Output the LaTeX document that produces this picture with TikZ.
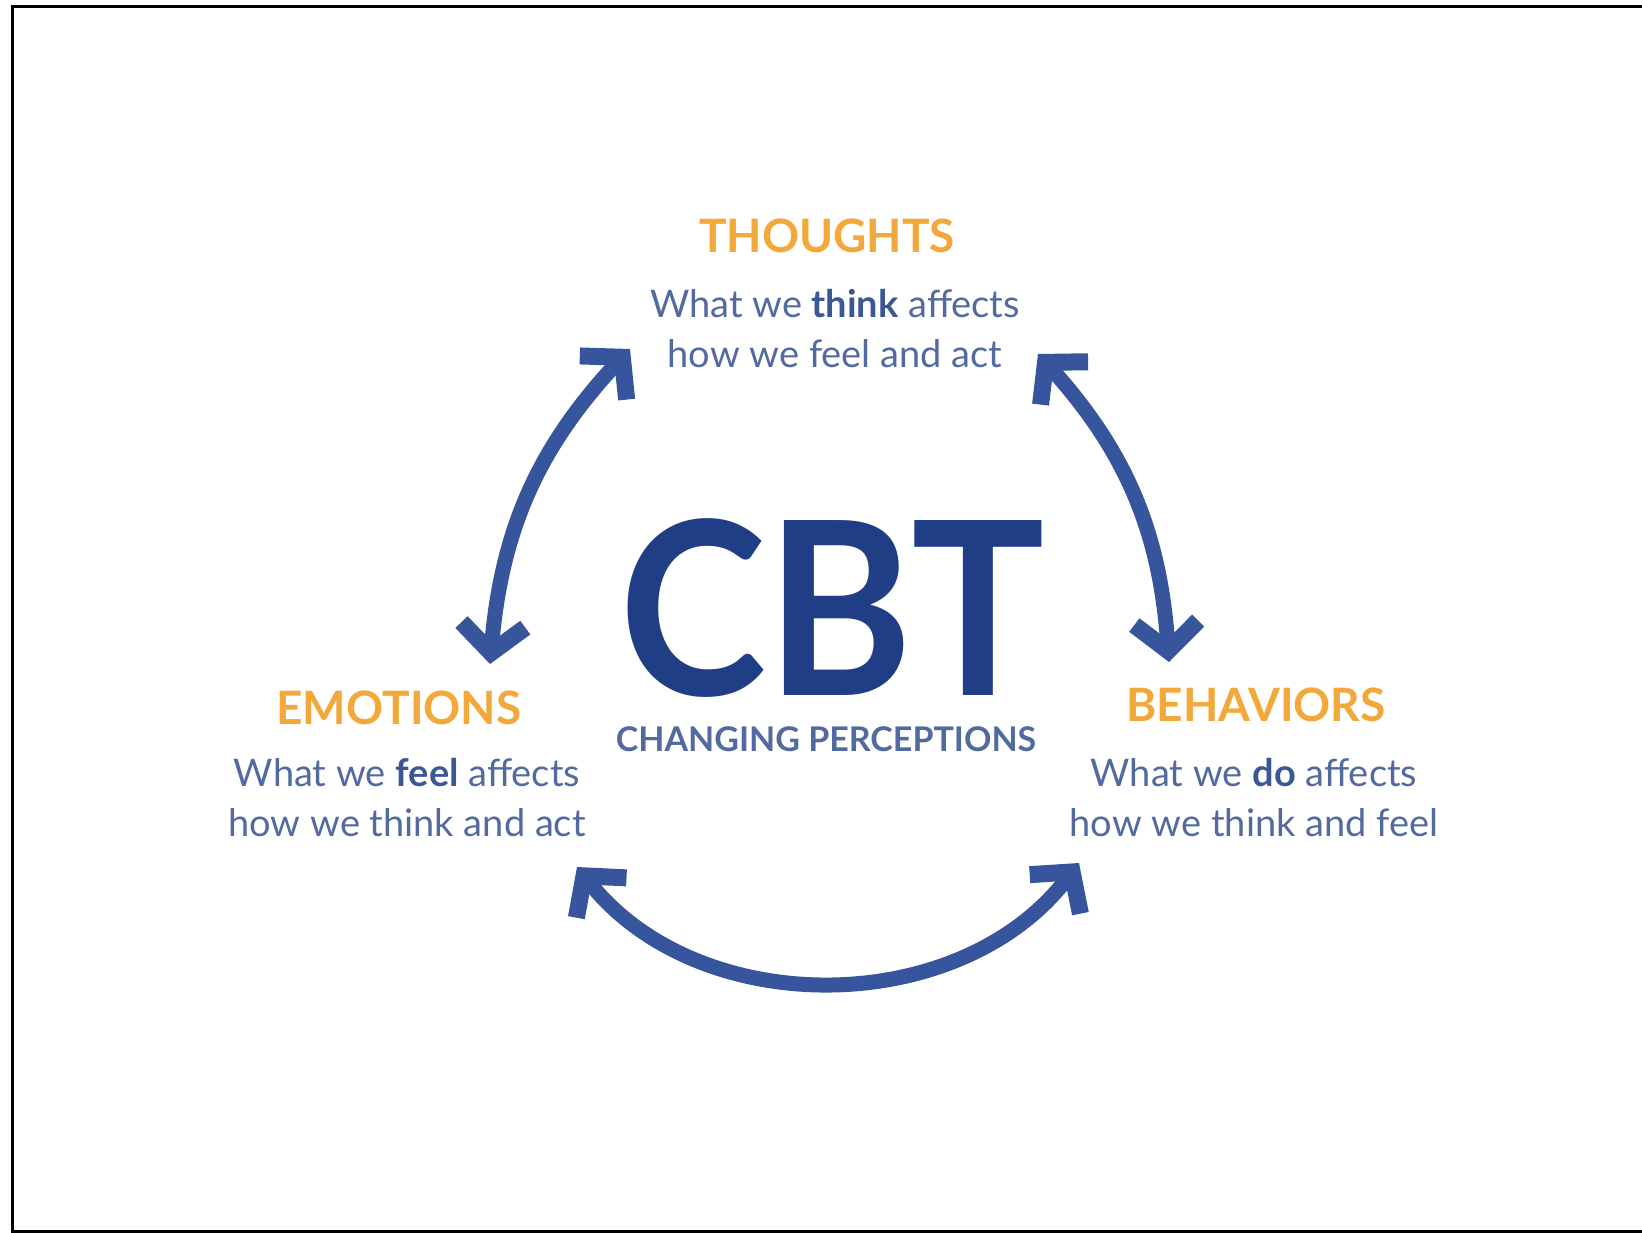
\documentclass[tikz,border=0pt]{standalone}
\usepackage{fontspec}
\setmainfont{Lato}
\usetikzlibrary{arrows.meta,positioning}
\definecolor{cbtnavy}{RGB}{31,62,134}
\definecolor{cbtarrow}{RGB}{55,85,157}
\definecolor{cbttext}{RGB}{82,106,160}
\definecolor{cbtbold}{RGB}{60,88,148}
\definecolor{cbtorange}{RGB}{243,168,59}

\tikzset{
  heading/.style={text=cbtorange, font=\fontsize{46}{54}\selectfont\bfseries, inner sep=0pt},
  caption/.style={text=cbttext, font=\fontsize{38}{50}\selectfont, align=center, inner sep=0pt},
  cycle arrow/.style={draw=cbtarrow, line width=15pt,
    {Straight Barb[length=28pt,width=64pt,line width=17pt]}-{Straight Barb[length=28pt,width=64pt,line width=17pt]}}
}
\newcommand{\kw}[1]{{\color{cbtbold}\bfseries #1}}

\begin{document}
\begin{tikzpicture}[x=1pt,y=-1pt]
\useasboundingbox (0,0) rectangle (1642,1233);
\fill[white] (0,0) rectangle (1642,1233);
\draw[line width=3pt] (1642,7) -- (12,7) -- (12,1231) -- (1642,1231);

% the three corners
\node[heading] (thoughts) at (827,236) {THOUGHTS};
\node[caption] (thoughtstxt) at (835,329) {What we \kw{think} affects\\how we feel and act};
\node[heading] (emotions) at (399,708) {EMOTIONS};
\node[caption] (emotionstxt) at (407,798) {What we \kw{feel} affects\\how we think and act};
\node[heading] (behaviors) at (1256,705) {BEHAVIORS};
\node[caption] (behaviorstxt) at (1254,798) {What we \kw{do} affects\\how we think and feel};

% centre
\node[text=cbtnavy, font=\fontsize{242}{242}\selectfont\bfseries, inner sep=0pt,
      text depth=0pt, xscale=0.92] (cbt) at (832,607) {CBT};
\node[text=cbttext, font=\fontsize{34}{40}\selectfont\bfseries, inner sep=0pt] (perc) at (826,739) {CHANGING PERCEPTIONS};

% arrow ends
\coordinate (lt) at (630,349);
\coordinate (lb) at (490,664);
\coordinate (rt) at (1038,354);
\coordinate (rb) at (1169,662);
\coordinate (bl) at (577,867);
\coordinate (br) at (1079,863);

\draw[cycle arrow] (lb) to[bend left=19] (lt);
\draw[cycle arrow] (rt) to[bend left=19] (rb);
\draw[cycle arrow] (br) to[bend left=52] (bl);
\end{tikzpicture}
\end{document}
